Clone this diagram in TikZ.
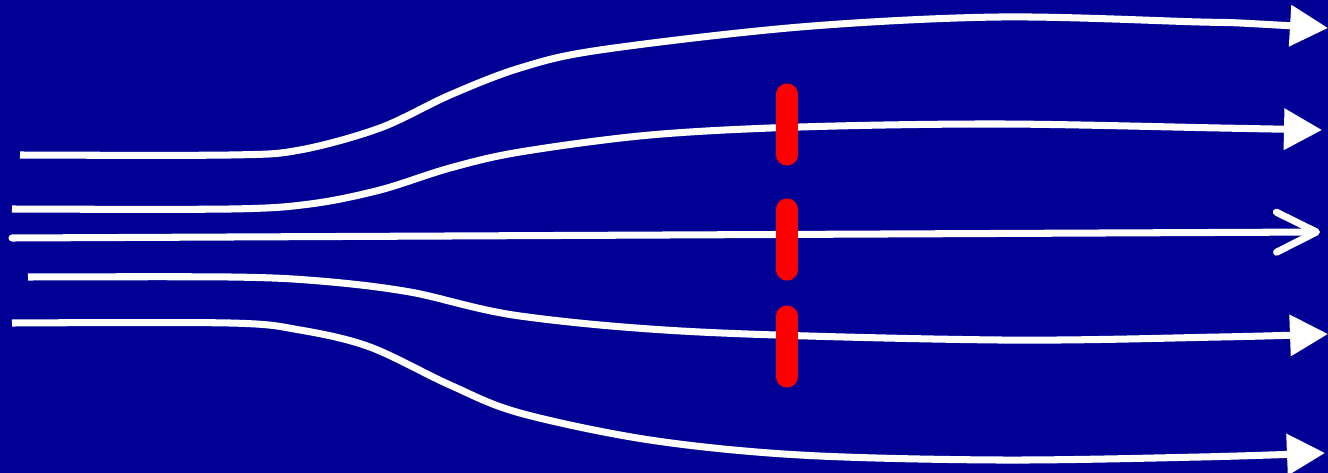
\documentclass[tikz,border=0pt]{standalone}
\usetikzlibrary{arrows.meta}
\definecolor{bgblue}{RGB}{0,0,148}
\definecolor{barred}{RGB}{255,0,0}
\begin{document}
\begin{tikzpicture}[x=0.01cm,y=-0.01cm,
  stream/.style={white,line width=2pt},
  head/.style={-{Triangle[length=3.8mm,width=4mm]}},
  disk/.style={barred,line width=6pt,line cap=round}]
\fill[bgblue] (0,0) rectangle (1328,473);
\useasboundingbox (0,0) rectangle (1328,473);
% top streamline
\draw[stream,head] plot[smooth,tension=0.55] coordinates {(20,155) (230,155) (300,150) (380,128) (450,95) (520,68) (600,50) (800,27) (1000,17) (1200,22) (1240,23) (1328,28)};
% second
\draw[stream,head] plot[smooth,tension=0.55] coordinates {(12,209) (230,209) (310,204) (380,190) (450,168) (520,152) (650,135) (800,127) (1000,124) (1220,128) (1322,130)};
% middle
\draw[stream,line cap=round,-{Straight Barb[round,length=4mm,width=4mm]}] (12,238) -- (1320,232);
% fourth
\draw[stream,head] plot[smooth,tension=0.55] coordinates {(28,277) (230,277) (320,281) (410,292) (520,316) (700,332) (1000,340) (1220,337) (1328,334)};
% bottom
\draw[stream,head] plot[smooth,tension=0.55] coordinates {(12,323) (230,323) (300,330) (370,347) (450,385) (520,413) (650,440) (800,455) (1000,460) (1200,457) (1325,453)};
% red bars
\draw[disk] (787,94) -- (787,155);
\draw[disk] (787,209) -- (787,270);
\draw[disk] (787,316) -- (787,377);
\end{tikzpicture}
\end{document}
